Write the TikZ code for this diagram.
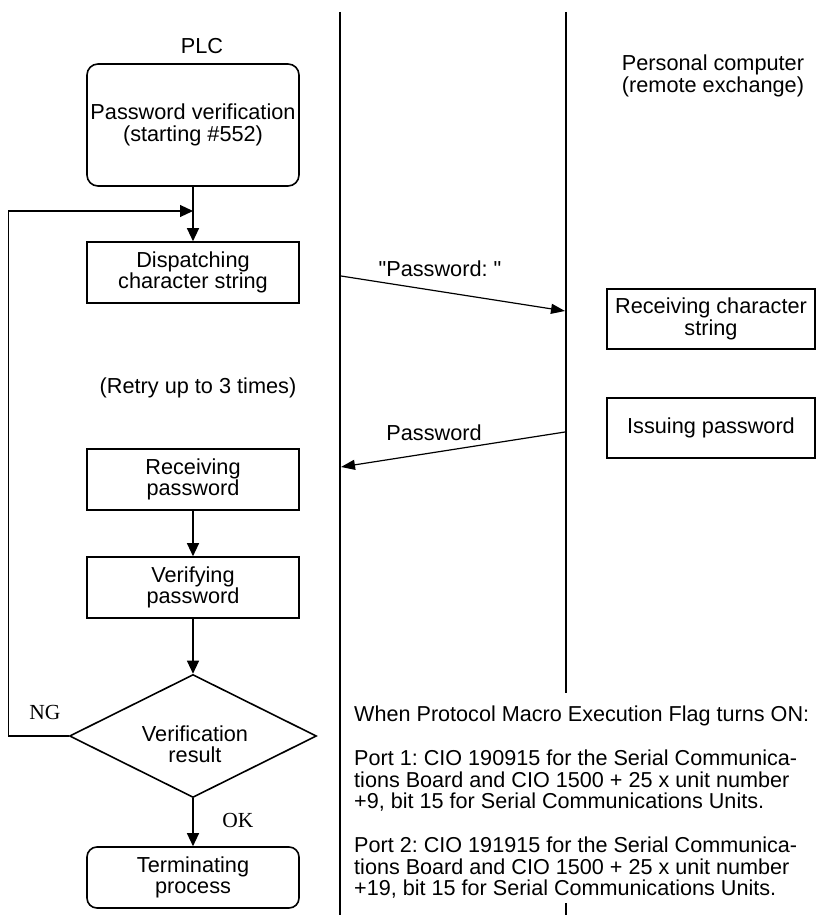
\documentclass[tikz,border=0pt]{standalone}
\usepackage{fontspec}
\setmainfont{Liberation Sans}[Ligatures=TeXOff]
\newfontfamily\seriffont{Liberation Serif}
\usetikzlibrary{arrows.meta,shapes.geometric}
\frenchspacing
\begin{document}
\frenchspacing
\begin{tikzpicture}[x=1pt,y=1pt,
  every node/.style={font=\fontsize{21.7}{21.5}\selectfont, inner sep=0pt, align=center},
  proc/.style={draw, line width=1.6pt, minimum width=212pt, minimum height=61pt},
  rproc/.style={proc, rounded corners=11pt},
  pcbox/.style={draw, line width=1.6pt, minimum width=208pt, minimum height=60pt},
  flow/.style={line width=1.2pt, -{Triangle[length=13pt,width=12pt]}},
  msg/.style={line width=1.2pt, -{Triangle[length=14pt,width=10pt]}},
  sep/.style={line width=1.4pt},
  lbl/.style={font=\seriffont\fontsize{21.5}{21.5}\selectfont},
  note/.style={anchor=base west, align=left, font=\fontsize{21.6}{21.5}\selectfont}
]
\useasboundingbox (0,0) rectangle (816,-915);

% lane separators
\coordinate (l1) at (340,-12);
\coordinate (l2) at (340,-915);
\coordinate (r1) at (566,-12);
\coordinate (r2) at (566,-693);
\coordinate (r3) at (566,-903);
\coordinate (r4) at (566,-915);
\draw[sep] (l1) -- (l2);
\draw[sep] (r1) -- (r2);
\draw[sep] (r3) -- (r4);

% PLC column
\node (plc) at (202,-46) {PLC};
\node[rproc, minimum height=122pt] (start) at (193,-125) {Password verification\\(starting \#552)};
\node[proc] (disp) at (193,-272.5) {Dispatching\\character string};
\node (retry) at (198,-388) {(Retry up to 3 times)};
\node[proc] (recv) at (193,-479.5) {Receiving\\password};
\node[proc] (verif) at (193,-587.5) {Verifying\\password};
\node[draw, diamond, line width=1.6pt, minimum width=247pt, minimum height=123pt] (dec) at (193,-736) {};
\node (dect) at (195,-744) {Verification\\result};
\node[proc, rounded corners=10pt] (term) at (193,-877.5) {Terminating\\process};
\node[lbl] (ng) at (45,-712) {NG};
\node[lbl] (ok) at (238,-820) {OK};

\coordinate (j) at (193,-211);
\draw[flow] (start.south) -- (disp.north);
\draw[flow] (recv.south) -- (verif.north);
\draw[flow] (verif.south) -- (dec.north);
\draw[flow] (dec.south) -- (term.north);
\draw[flow] (dec.west) -- ++(-60,0) |- (j);

% PC column
\node (pc) at (713,-76) {Personal computer\\(remote exchange)};
\node[pcbox] (rcs) at (711,-319) {Receiving character\\string};
\node[pcbox] (iss) at (711,-428) {Issuing password};

% messages
\coordinate (m1s) at (341,-276);
\coordinate (m1e) at (565,-311);
\coordinate (m2s) at (565,-432);
\coordinate (m2e) at (341,-467);
\draw[msg] (m1s) -- (m1e);
\draw[msg] (m2s) -- (m2e);
\node (m1l) at (440,-269) {"Password: "};
\node (m2l) at (434,-433) {Password};

% note
\node[note] (n0) at (354,-721) {When Protocol Macro Execution Flag turns ON:};
\node[note] (n1) at (354,-765) {Port 1: CIO 190915 for the Serial Communica-};
\node[note] (n2) at (354,-787) {tions Board and CIO 1500 + 25 x unit number};
\node[note] (n3) at (354,-808) {+9, bit 15 for Serial Communications Units.};
\node[note] (n4) at (354,-852) {Port 2: CIO 191915 for the Serial Communica-};
\node[note] (n5) at (354,-874) {tions Board and CIO 1500 + 25 x unit number};
\node[note] (n6) at (354,-895) {+19, bit 15 for Serial Communications Units.};
\end{tikzpicture}
\end{document}
